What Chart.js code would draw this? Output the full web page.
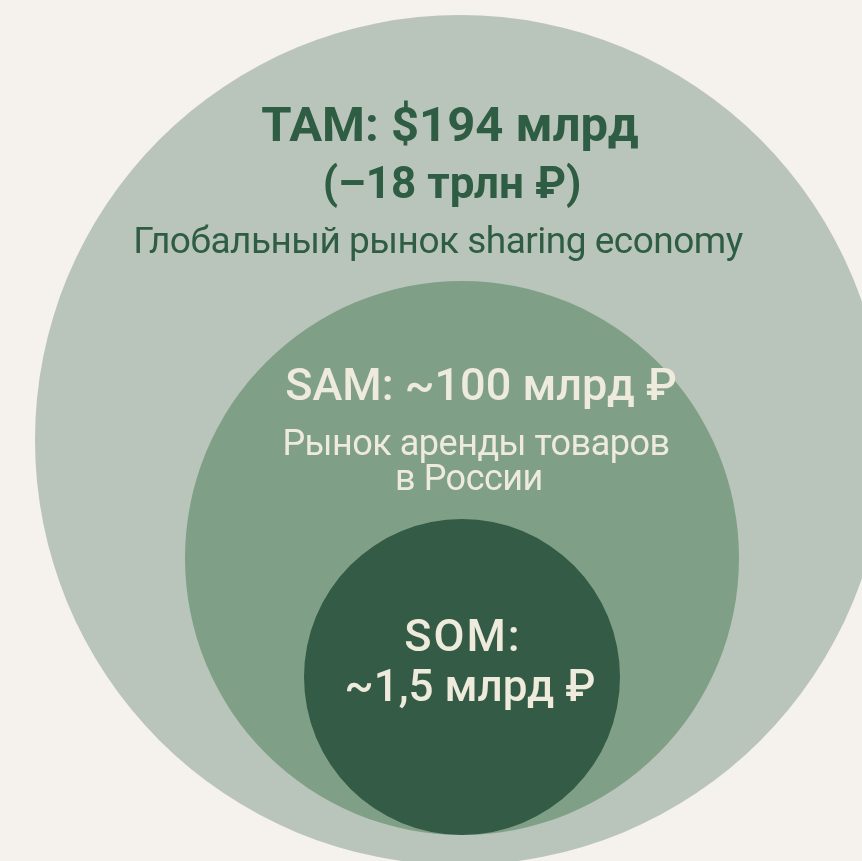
<!DOCTYPE html>
<html lang="ru">
<head>
<meta charset="utf-8">
<script src="https://cdn.jsdelivr.net/npm/chart.js@4.4.1/dist/chart.umd.min.js"></script>
<style>
  html, body { margin: 0; padding: 0; background: #f5f1ec; }
  #wrap { width: 862px; height: 861px; }
  canvas { display: block; }
</style>
</head>
<body>
<div id="wrap"><canvas id="market" width="862" height="861"></canvas></div>
<script>
// Market segments, outermost first
const segments = ['TAM', 'SAM', 'SOM'];
const headlines = [
  ['TAM: $194 млрд', '(–18 трлн ₽)'],
  ['SAM: ~100 млрд ₽'],
  ['SOM:', '~1,5 млрд ₽']
];
const descriptions = [
  ['Глобальный рынок sharing economy'],
  ['Рынок аренды товаров', 'в России'],
  []
];

// Circle layout on a 862 x 861 grid (radius in pixels)
const circleX = [460, 462, 462];
const circleY = [440, 558, 677];
const circleR = [425, 277, 158];
const fills = ['#b9c5bb', '#7fa087', '#335b45'];
const textColors = ['#2f5d44', '#efebdc', '#efebdc'];

// Text placement relative to each circle centre: [dx, baseline dy, font, letter spacing]
const FONT = 'Roboto, "Open Sans", sans-serif';
const labelLayout = [
  [[-10, -299, '700 49px ' + FONT, '0px'],
   [-8, -242, '700 44px ' + FONT, '0px'],
   [-22, -187, '400 37px ' + FONT, '-0.5px']],
  [[19, -158, '500 45px ' + FONT, '0px'],
   [14, -103, '400 36px ' + FONT, '-0.5px'],
   [7, -68, '400 36px ' + FONT, '-0.5px']],
  [[1, -26, '500 45px ' + FONT, '2px'],
   [8, 24, '500 44px ' + FONT, '0px']]
];

const labelPlugin = {
  id: 'segmentLabels',
  afterDatasetsDraw(chart) {
    const ctx = chart.ctx;
    const meta = chart.getDatasetMeta(0);
    ctx.save();
    ctx.textAlign = 'center';
    ctx.textBaseline = 'alphabetic';
    segments.forEach((seg, i) => {
      const el = meta.data[i];
      const lines = headlines[i].concat(descriptions[i]);
      lines.forEach((text, j) => {
        const [dx, dy, font, spacing] = labelLayout[i][j];
        ctx.font = font;
        ctx.letterSpacing = spacing;
        ctx.fillStyle = textColors[i];
        ctx.fillText(text, el.x + dx, el.y + dy);
      });
    });
    ctx.restore();
  }
};

new Chart(document.getElementById('market'), {
  type: 'bubble',
  data: {
    datasets: [{
      label: 'Рынок',
      data: segments.map((s, i) => ({ x: circleX[i], y: circleY[i], r: circleR[i] })),
      backgroundColor: fills,
      borderWidth: 0,
      hoverBorderWidth: 0,
      hoverRadius: 0
    }]
  },
  options: {
    responsive: false,
    animation: false,
    events: [],
    layout: { autoPadding: false, padding: 0 },
    clip: false,
    scales: {
      x: { type: 'linear', min: 0, max: 862, display: false },
      y: { type: 'linear', min: 0, max: 861, reverse: true, display: false }
    },
    plugins: {
      legend: { display: false },
      tooltip: { enabled: false }
    }
  },
  plugins: [labelPlugin]
});
</script>
</body>
</html>
